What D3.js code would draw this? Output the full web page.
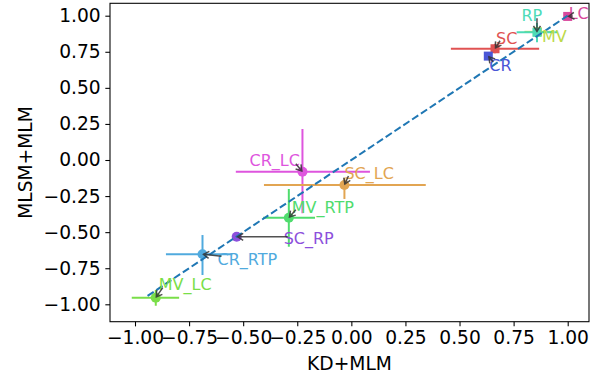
<!DOCTYPE html>
<html>
<head>
<meta charset="utf-8">
<script src="https://cdn.jsdelivr.net/npm/d3@7/dist/d3.min.js"></script>
<style>
html,body{margin:0;padding:0;background:#fff;}
svg{display:block;font-family:"DejaVu Sans",sans-serif;}
</style>
</head>
<body>
<svg id="chart" width="600" height="376"></svg>
<script>
// ---- data ----
const names   = ["LC","MV","RP","SC","CR","CR_LC","SC_LC","MV_RTP","SC_RP","CR_RTP","MV_LC"];
const xVals   = [1.000, 0.860, 0.858, 0.664, 0.633, -0.226, -0.032, -0.289, -0.530, -0.688, -0.904];
const yVals   = [0.995, 0.888, 0.885, 0.771, 0.720, -0.081, -0.173, -0.400, -0.532, -0.653, -0.954];
const xLo     = [1.000, 0.800, 0.764, 0.460, 0.620, -0.534, -0.404, -0.408, -0.530, -0.857, -1.015];
const xHi     = [1.000, 0.930, 0.950, 0.868, 0.646, 0.086, 0.344, -0.168, -0.530, -0.550, -0.796];
const yLo     = [0.995, 0.860, 0.816, 0.740, 0.700, -0.369, -0.270, -0.601, -0.532, -0.797, -1.010];
const yHi     = [0.995, 0.910, 0.950, 0.805, 0.740, 0.215, -0.125, -0.201, -0.532, -0.520, -0.900];
const shapes  = ["square","square","square","square","square","circle","circle","circle","circle","circle","circle"];
const colors  = ["#d9479c","#bcd94a","#4ddbb6","#e05252","#4a56d6","#de55de","#e2a552","#50dc6e","#8c4fdc","#50aade","#7ade48"];
const xTicks  = [-1.00,-0.75,-0.50,-0.25,0.00,0.25,0.50,0.75,1.00];
const yTicks  = [-1.00,-0.75,-0.50,-0.25,0.00,0.25,0.50,0.75,1.00];
const diagonal = [-0.942, 1.0];
const xLabel = "KD+MLM", yLabel = "MLSM+MLM";
// label text offsets (pixels, text start / text centre) relative to point
const labelDx = [1, 4.5, -15.5, 1, 1, -53, 0, 3, 47, 15, 3];
const labelDy = [-3.5, 4, -17, -11, 9, -11, -12, -11, 1, 5, -13];
const showArrow = [true, false, true, true, true, true, true, true, true, true, true];

// ---- layout ----
const svg = d3.select("#chart");
const L = 110, R = 589, T = 3.3, B = 321.7;
const x = d3.scaleLinear().domain([-1, 1]).range([135, 567.7]);
const y = d3.scaleLinear().domain([-1, 1]).range([304.3, 15.7]);
const fs = 18.67;
const fmt = v => (v < 0 ? "\u2212" : "") + Math.abs(v).toFixed(2);

// errorbars
const eg = svg.append("g");
names.forEach((n, i) => {
  const c = colors[i];
  if (xHi[i] - xLo[i] > 0.001)
    eg.append("line").attr("x1", x(xLo[i])).attr("x2", x(xHi[i])).attr("y1", y(yVals[i])).attr("y2", y(yVals[i]))
      .attr("stroke", c).attr("stroke-width", 2);
  if (yHi[i] - yLo[i] > 0.001)
    eg.append("line").attr("x1", x(xVals[i])).attr("x2", x(xVals[i])).attr("y1", y(yLo[i])).attr("y2", y(yHi[i]))
      .attr("stroke", c).attr("stroke-width", 2);
});

// markers
const mg = svg.append("g");
names.forEach((n, i) => {
  const cx = x(xVals[i]), cy = y(yVals[i]);
  if (shapes[i] === "square")
    mg.append("rect").attr("x", cx - 4.5).attr("y", cy - 4.5).attr("width", 9).attr("height", 9).attr("fill", colors[i]);
  else
    mg.append("circle").attr("cx", cx).attr("cy", cy).attr("r", 5).attr("fill", colors[i]);
});

// diagonal dashed line
svg.append("line")
  .attr("x1", x(diagonal[0])).attr("y1", y(diagonal[0]))
  .attr("x2", x(diagonal[1])).attr("y2", y(diagonal[1]))
  .attr("stroke", "#1f77b4").attr("stroke-width", 2).attr("stroke-dasharray", "7.4,3.2");

// labels
const ag = svg.append("g");
names.forEach((n, i) => {
  const px = x(xVals[i]), py = y(yVals[i]);
  ag.append("text").attr("x", px + labelDx[i]).attr("y", py + labelDy[i] + 5.8)
    .attr("font-size", 16).attr("fill", colors[i]).text(n);
});
// arrows from label to point
ag.selectAll("text").each(function(d, i) {
  if (!showArrow[i]) return;
  const bb = this.getBBox();
  const px = x(xVals[i]), py = y(yVals[i]);
  const cy = y(yVals[i]) + labelDy[i];
  const sx = Math.max(bb.x + 4, Math.min(px, bb.x + bb.width - 4));
  const sy = Math.max(cy - 3, Math.min(py, cy + 3));
  const dx = px - sx, dy = py - sy, len = Math.hypot(dx, dy);
  if (len < 2) return;
  const ux = dx / len, uy = dy / len;
  const ex = px - ux * 1, ey = py - uy * 1;
  const g = svg.append("g").attr("stroke", "#333").attr("stroke-width", 1.5).attr("fill", "none").attr("opacity", 0.85);
  g.append("line").attr("x1", sx).attr("y1", sy).attr("x2", ex).attr("y2", ey);
  const hl = 5.5, hw = 3.5;
  const bx = ex - ux * hl, by = ey - uy * hl;
  g.append("path").attr("d", `M${bx - uy * hw},${by + ux * hw}L${ex},${ey}L${bx + uy * hw},${by - ux * hw}`);
});

// frame
svg.append("rect").attr("x", L).attr("y", T).attr("width", R - L).attr("height", B - T)
  .attr("fill", "none").attr("stroke", "#000").attr("stroke-width", 1.07);

// axes
const xa = svg.append("g").attr("transform", `translate(0,${B})`)
  .call(d3.axisBottom(x).tickValues(xTicks).tickSize(4.67).tickPadding(4.67).tickFormat(fmt));
xa.select(".domain").remove();
xa.selectAll("line").attr("stroke", "#000").attr("stroke-width", 1.07);
xa.selectAll("text").attr("font-size", fs).attr("font-family", "DejaVu Sans").attr("fill", "#000").attr("dy", "0.71em");

const ya = svg.append("g").attr("transform", `translate(${L},0)`)
  .call(d3.axisLeft(y).tickValues(yTicks).tickSize(4.67).tickPadding(4.67).tickFormat(fmt));
ya.select(".domain").remove();
ya.selectAll("line").attr("stroke", "#000").attr("stroke-width", 1.07);
ya.selectAll("text").attr("font-size", fs).attr("font-family", "DejaVu Sans").attr("fill", "#000");

// axis labels
svg.append("text").attr("x", (L + R) / 2).attr("y", 370).attr("text-anchor", "middle")
  .attr("font-size", fs).attr("fill", "#000").text(xLabel);
svg.append("text").attr("transform", `translate(32,${(T + B) / 2}) rotate(-90)`).attr("text-anchor", "middle")
  .attr("font-size", fs).attr("fill", "#000").text(yLabel);
</script>
</body>
</html>
